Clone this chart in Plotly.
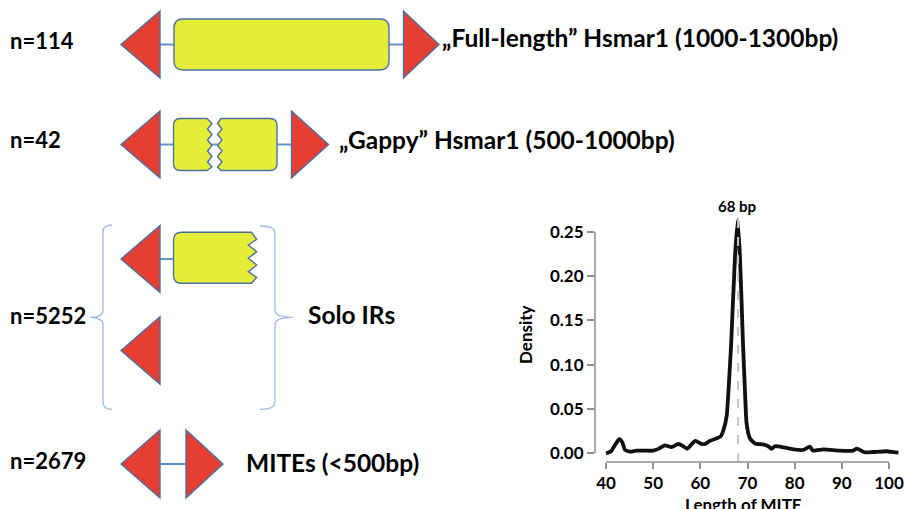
import plotly.graph_objects as go

# ---------------- data ----------------
MITE_LENGTH = [40.0, 41.0, 42.0, 42.8, 43.5, 44.0, 45.1, 46.5, 48.0, 50.0, 51.1, 52.5, 53.9,
               55.3, 56.4, 57.2, 58.9, 60.3, 61.0, 62.0, 63.5, 64.3, 65.0, 65.6, 65.9, 66.5,
               67.35, 67.9, 68.4, 69.0, 69.5, 69.8, 70.5, 71.6, 73.3, 74.4, 75.1, 75.8, 77.6,
               79.7, 81.8, 83.2, 83.9, 86.1, 89.6, 92.4, 93.2, 94.9, 96.7, 99.5, 100.6, 102.0]
DENSITY = [0.000, 0.002, 0.010, 0.016, 0.012, 0.004, 0.002, 0.003, 0.003, 0.003, 0.005, 0.009,
           0.007, 0.0105, 0.008, 0.005, 0.014, 0.0105, 0.0105, 0.014, 0.017, 0.019, 0.028,
           0.043, 0.065, 0.120, 0.222, 0.263, 0.222, 0.130, 0.065, 0.034, 0.017, 0.011, 0.010,
           0.008, 0.005, 0.008, 0.0068, 0.0045, 0.0038, 0.0075, 0.003, 0.0045, 0.003, 0.003,
           0.0053, 0.001, 0.0015, 0.0023, 0.0015, 0.0007]
PEAK_BP = 68
PEAK_TOP = 0.271
X_TICKS = [40, 50, 60, 70, 80, 90, 100]
Y_TICKS = [0.00, 0.05, 0.10, 0.15, 0.20, 0.25]
COUNTS = [114, 42, 5252, 2679]
CLASS_LABELS = ["\u201eFull-length\u201d Hsmar1 (1000-1300bp)",
                "\u201eGappy\u201d Hsmar1 (500-1000bp)",
                "Solo IRs",
                "MITEs (<500bp)"]

# ---------------- style ----------------
W, H = 904, 509
FONT = "Lato"
RED = "#e63e30"
YEL = "#e5ee36"
EDGE = "#4a70a6"
LINK = "#5e92d2"
BRACE = "#9dbde3"
AXC = "#8e8e8e"

fig = go.Figure()

# density panel
fig.add_trace(go.Scatter(x=MITE_LENGTH, y=DENSITY, mode="lines",
                         line=dict(color="#111111", width=3.8, shape="spline", smoothing=0.5),
                         hoverinfo="skip", showlegend=False, xaxis="x", yaxis="y"))

YLO = -0.0098
fig.add_trace(go.Scatter(x=[PEAK_BP, PEAK_BP], y=[YLO, PEAK_TOP], mode="lines",
                         line=dict(color="#c4c4c4", width=2, dash="dash"),
                         hoverinfo="skip", showlegend=False, xaxis="x", yaxis="y"))

# dummy trace for the pixel-space overlay axes
fig.add_trace(go.Scatter(x=[], y=[], xaxis="x2", yaxis="y2", showlegend=False))

xdom = [595 / W, 1.0]
ydom = [(H - 462) / H, (H - 205) / H]

# ---------------- diagram shapes (pixel space on x2/y2) ----------------
shapes = []


def line(x0, y0, x1, y1, color=LINK, width=2):
    shapes.append(dict(type="line", xref="x2", yref="y2", x0=x0, y0=y0, x1=x1, y1=y1,
                       line=dict(color=color, width=width), layer="above"))


def path(d, fill, color=EDGE, width=1.4):
    shapes.append(dict(type="path", xref="x2", yref="y2", path=d, fillcolor=fill,
                       line=dict(color=color, width=width), layer="above"))


def tri(tip, base, yc, hh):
    path(f"M {tip},{yc} L {base},{yc-hh} L {base},{yc+hh} Z", RED)


def rrect(x0, y0, x1, y1, r):
    d = (f"M {x0+r},{y0} L {x1-r},{y0} Q {x1},{y0} {x1},{y0+r} L {x1},{y1-r} "
         f"Q {x1},{y1} {x1-r},{y1} L {x0+r},{y1} Q {x0},{y1} {x0},{y1-r} "
         f"L {x0},{y0+r} Q {x0},{y0} {x0+r},{y0} Z")
    path(d, YEL)


def jag_right(x0, y0, x1, y1, xin, xout, ys, r):
    d = f"M {x0+r},{y0} L {x1},{y0} "
    for i, yy in enumerate(ys):
        d += f"L {xout if i % 2 == 0 else xin},{yy} "
    d += f"L {x1},{y1} L {x0+r},{y1} Q {x0},{y1} {x0},{y1-r} L {x0},{y0+r} Q {x0},{y0} {x0+r},{y0} Z"
    path(d, YEL)


def jag_left(x0, y0, x1, y1, xin, xout, ys, r):
    d = f"M {x1-r},{y0} Q {x1},{y0} {x1},{y0+r} L {x1},{y1-r} Q {x1},{y1} {x1-r},{y1} L {x0},{y1} "
    for i, yy in enumerate(reversed(ys)):
        d += f"L {xout if i % 2 == 0 else xin},{yy} "
    d += f"L {x0},{y0} Z"
    path(d, YEL)


# row 1 : full length
y1c = 44.5
line(160, y1c, 175, y1c)
line(388, y1c, 404, y1c)
tri(121, 160, y1c, 33.5)
rrect(174, 19, 389, 70, 9)
tri(439, 403.5, y1c, 33.5)

# row 2 : gappy
y2c = 144.5
line(160, y2c, 174, y2c)
line(209, y2c, 219, y2c)
line(276, y2c, 292, y2c)
tri(121, 160, y2c, 33.5)
zig = [123.5, 129, 134.5, 140, 145.5, 151, 156.5, 162, 167]
jag_right(173.5, 118.5, 207, 170.5, 207.5, 212, zig, 7)
jag_left(221, 118.5, 277, 170.5, 222, 217.5, zig, 7)
tri(328.5, 291.5, y2c, 33.5)

# row 3 : solo IRs
y3a = 259
line(160, y3a, 174, y3a)
tri(121, 160, y3a, 33.5)
jag_right(173.5, 232.3, 251.5, 283.3, 248.3, 256.7,
          [239.3, 245, 251.7, 258.3, 265, 271.7, 277.3], 8)
tri(121, 160, 350.5, 33.8)

# braces
shapes.append(dict(type="path", xref="x2", yref="y2", layer="above",
                   line=dict(color=BRACE, width=1.3),
                   path=("M 112,225 Q 103,225 103,232 L 103,310 Q 103,317.3 90,317.3 "
                         "Q 103,317.3 103,324.6 L 103,402 Q 103,409.3 112,409.3")))
shapes.append(dict(type="path", xref="x2", yref="y2", layer="above",
                   line=dict(color=BRACE, width=1.3),
                   path=("M 260,226 Q 275,226 275,233 L 275,310 Q 275,317.3 293,317.3 "
                         "Q 275,317.3 275,324.6 L 275,402 Q 275,409.3 260,409.3")))

# row 4 : MITEs
y4c = 464
line(160, y4c, 186, y4c)
tri(121, 160, y4c, 34)
tri(223, 186, y4c, 34)

# axis lines of the density panel (R-style, only across tick range)
shapes.append(dict(type="line", xref="x", yref="paper", x0=X_TICKS[0], x1=X_TICKS[-1],
                   y0=ydom[0], y1=ydom[0], line=dict(color=AXC, width=1.5)))
shapes.append(dict(type="line", xref="paper", yref="y", x0=xdom[0], x1=xdom[0],
                   y0=Y_TICKS[0], y1=Y_TICKS[-1], line=dict(color=AXC, width=1.5)))

# ---------------- text ----------------
ann = []


def txt(x, y, s, size=22, anchor="left", angle=0, ref=("x2", "y2")):
    ann.append(dict(x=x, y=y, xref=ref[0], yref=ref[1], text=s, showarrow=False,
                    xanchor=anchor, yanchor="middle", textangle=angle,
                    font=dict(family=FONT, size=size, color="#000000", weight=700)))


row_y = [40, 139, 315, 460]
for c, yy in zip(COUNTS, row_y):
    txt(8, yy, f"n={c}")
CAP = 24.5
txt(440, 37, CLASS_LABELS[0], size=CAP)
txt(337, 139, CLASS_LABELS[1], size=CAP)
txt(306, 314, CLASS_LABELS[2], size=CAP)
txt(244, 462, CLASS_LABELS[3], size=CAP)

txt(737, 206, f"{PEAK_BP} bp", size=15, anchor="center")
txt(525, 335, "Density", size=17, anchor="center", angle=-90)
txt(743, 504, "Length of MITE", size=17, anchor="center")

xr0 = 40 - 11 / 4.717
xr1 = xr0 + (W - 595) / 4.717

fig.update_layout(
    width=W, height=H, margin=dict(l=0, r=0, t=0, b=0),
    paper_bgcolor="white", plot_bgcolor="rgba(0,0,0,0)", showlegend=False,
    shapes=shapes, annotations=ann,
    xaxis=dict(domain=xdom, anchor="y", range=[xr0, xr1], tickvals=X_TICKS,
               ticks="outside", ticklen=6, tickwidth=1.5, tickcolor=AXC,
               showline=False, showgrid=False, zeroline=False,
               tickfont=dict(family=FONT, size=17, color="#000", weight=700)),
    yaxis=dict(domain=ydom, anchor="x", range=[YLO, YLO + 257 * 0.25 / 221.6],
               tickvals=Y_TICKS, tickformat=".2f",
               ticks="outside", ticklen=7, tickwidth=1.5, tickcolor=AXC,
               showline=False, showgrid=False, zeroline=False,
               tickfont=dict(family=FONT, size=17, color="#000", weight=700)),
    xaxis2=dict(domain=[0, 1], anchor="y2", range=[0, W], visible=False, fixedrange=True),
    yaxis2=dict(domain=[0, 1], anchor="x2", range=[H, 0], visible=False, fixedrange=True),
)

fig.write_html("out.html", config={"displayModeBar": False},
               post_script="document.body.style.margin='0';")
